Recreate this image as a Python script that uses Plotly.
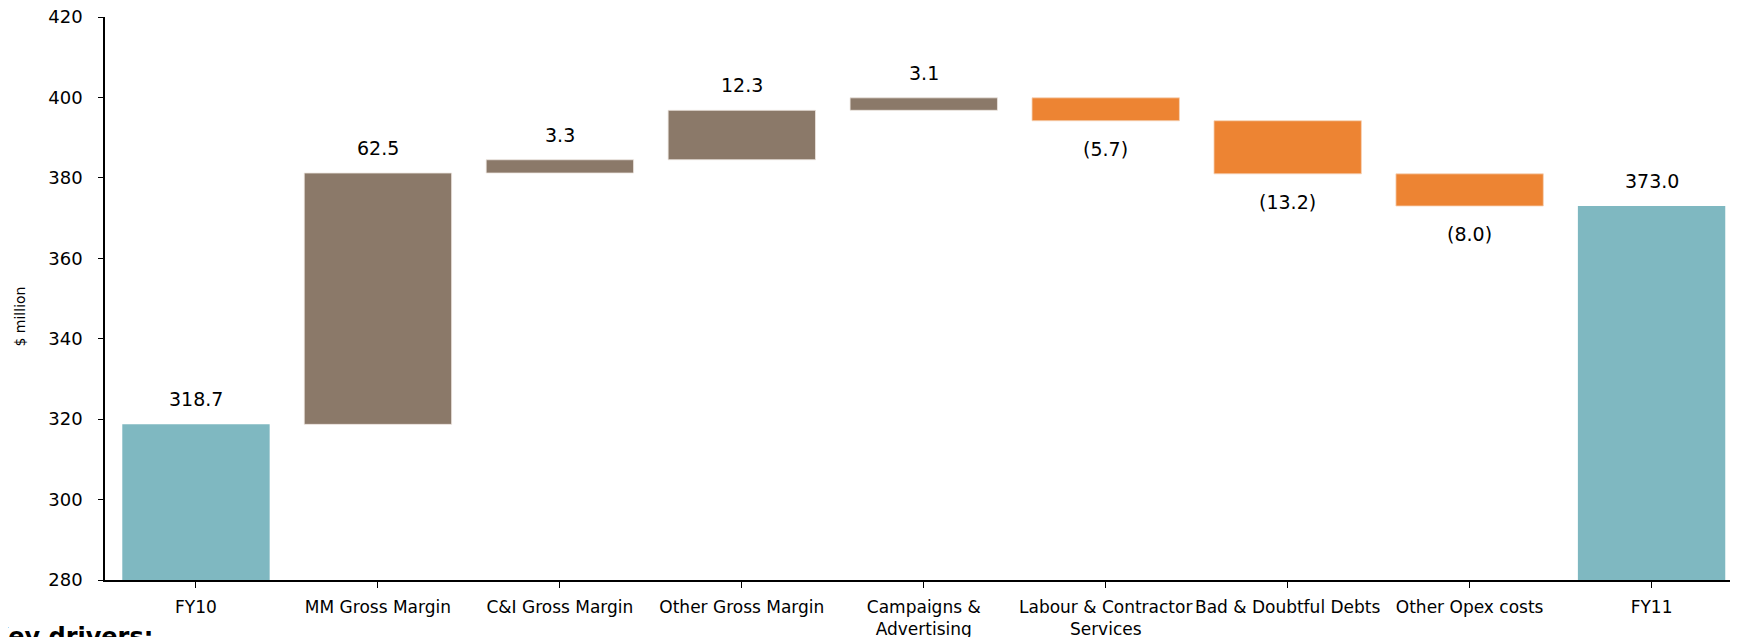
import plotly.graph_objects as go

categories = ["FY10", "MM Gross Margin", "C&I Gross Margin", "Other Gross Margin",
              "Campaigns &<br>Advertising", "Labour & Contractor<br>Services",
              "Bad & Doubtful Debts", "Other Opex costs", "FY11"]
measures = ["absolute", "relative", "relative", "relative", "relative",
            "relative", "relative", "relative", "total"]
values = [318.7, 62.5, 3.3, 12.3, 3.1, -5.7, -13.2, -8.0, 373.0]
y_ticks = [280, 300, 320, 340, 360, 380, 400, 420]

TEAL = "#7FB8C1"
BROWN = "#8B7969"
ORANGE = "#ED8433"
FONT = "DejaVu Sans"

fig = go.Figure(go.Waterfall(
    x=list(range(len(categories))),
    y=values,
    measure=measures,
    increasing=dict(marker=dict(color=BROWN, line=dict(color="#EDE6DF", width=0.8))),
    decreasing=dict(marker=dict(color=ORANGE, line=dict(color="#F6D3B8", width=0.8))),
    totals=dict(marker=dict(color=TEAL, line=dict(color=TEAL, width=0))),
    connector=dict(visible=False),
    showlegend=False,
    hoverinfo="skip",
))

# value labels
annotations = []
running = 0.0
for i, (m, v) in enumerate(zip(measures, values)):
    if m == "absolute":
        running = v
        top, bottom, txt, neg = v, None, f"{v:.1f}", False
    elif m == "total":
        top, bottom, txt, neg = running, None, f"{running:.1f}", False
    else:
        running = running + v
        if v >= 0:
            top, txt, neg = running, f"{v:.1f}", False
        else:
            bottom, txt, neg = running, f"({abs(v):.1f})", True
    if neg:
        annotations.append(dict(x=i, y=bottom, xref="x", yref="y", text=txt,
                                showarrow=False, yanchor="top", yshift=-15,
                                font=dict(family=FONT, size=19, color="#000000")))
    else:
        annotations.append(dict(x=i, y=top, xref="x", yref="y", text=txt,
                                showarrow=False, yanchor="bottom", yshift=12,
                                font=dict(family=FONT, size=19, color="#000000")))

# y-axis title
annotations.append(dict(x=0, y=0.468, xref="paper", yref="paper", text="$ million",
                        showarrow=False, textangle=-90, xanchor="center", yanchor="middle",
                        xshift=-85, font=dict(family=FONT, size=14, color="#000000")))
# cut-off slide text at bottom-left
annotations.append(dict(x=0, y=0, xref="paper", yref="paper", text="<b>Key drivers:</b>",
                        showarrow=False, xanchor="left", yanchor="top",
                        xshift=-117, yshift=-41,
                        font=dict(family=FONT, size=24, color="#000000")))

fig.update_layout(
    width=1730, height=629,
    margin=dict(l=97, r=0, t=9, b=57),
    paper_bgcolor="white", plot_bgcolor="white",
    waterfallgap=0.19,
    font=dict(family=FONT, color="#000000"),
    annotations=annotations,
    xaxis=dict(
        tickmode="array", tickvals=list(range(len(categories))), ticktext=categories,
        range=[-0.5, 8.475], tickson="boundaries", ticks="outside", ticklen=6,
        tickcolor="#000000", showline=True, linecolor="#000000", linewidth=1.5,
        showgrid=False, zeroline=False, tickangle=0, automargin=False,
        tickfont=dict(family=FONT, size=17, color="#000000"),
        ticklabelstandoff=5,
    ),
    yaxis=dict(
        range=[280, 420], tickmode="array", tickvals=y_ticks,
        ticks="outside", ticklen=5, tickcolor="#000000",
        showline=True, linecolor="#000000", linewidth=1.5,
        showgrid=False, zeroline=False, automargin=False,
        tickfont=dict(family=FONT, size=18, color="#000000"),
        ticklabelstandoff=12, ticklabeloverflow="allow",
    ),
)

fig.write_html("out.html")
